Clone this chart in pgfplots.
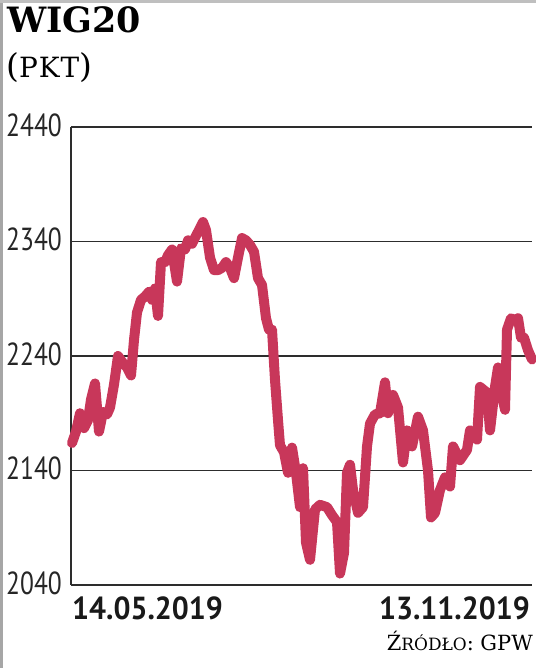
\documentclass[border=0pt]{standalone}
\usepackage{pgfplots}
\pgfplotsset{compat=1.18}
\usepackage{fontspec}
\setmainfont{DejaVu Serif}
\newfontfamily\tickfont[FakeStretch=0.8]{PT Sans}
\newfontfamily\datefont[FakeStretch=0.94]{PT Sans}
\newfontfamily\titlefont{DejaVu Serif}
\definecolor{wig}{RGB}{200,55,90}
\definecolor{gridc}{RGB}{45,45,45}
\begin{document}
\begin{tikzpicture}[x=1bp,y=1bp]
\path[use as bounding box] (0,0) rectangle (536,668);
\fill[gray!70] (0,0) rectangle (3,668);
\fill[gray!50] (0,665) rectangle (536,668);
\node[anchor=north west,inner sep=0pt,font=\titlefont\bfseries\fontsize{35}{40}\selectfont] at (7,662) {WIG20};
\node[anchor=north west,inner sep=0pt,font=\titlefont\fontsize{33}{36}\selectfont] at (6,616) {({\fontsize{28}{30}\selectfont P\kern1ptK\kern1ptT})};
\begin{axis}[
  at={(71bp,83bp)}, anchor=south west,
  scale only axis, width=461bp, height=458bp,
  xmin=71, xmax=532, ymin=2040, ymax=2440,
  axis x line=bottom, axis y line=left,
  axis line style={gridc, line width=1.6pt, -},
  xtick=\empty,
  ytick={2040,2140,2240,2340,2440},
  yticklabels={2040,2140,2240,2340,2440},
  major tick length=0pt,
  ymajorgrids, grid style={gridc, line width=1.6pt},
  yticklabel style={font=\tickfont\fontsize{32}{34}\selectfont, anchor=east, inner sep=0pt, xshift=-9bp, yshift=2bp, text=black!85},
  clip=false,
]
\addplot[wig, line width=10bp, line join=round, line cap=round] coordinates {
(72,2164) (76,2174) (80,2190) (84,2177) (88,2184) (91,2202) (95,2216) (99,2174)
(103,2191) (107,2189) (110,2195) (114,2215) (118,2240) (122,2235) (127,2230) (131,2223)
(134,2254) (137,2278) (141,2289) (145,2292) (149,2296) (152,2289) (155,2299) (158,2275)
(161,2322) (165,2322) (168,2328) (172,2333) (177,2305) (181,2334) (185,2333) (188,2341)
(192,2338) (196,2345) (199,2350) (203,2357) (206,2350) (210,2326) (214,2315) (218,2315)
(222,2317) (226,2322) (230,2317) (234,2308) (238,2326) (242,2343) (246,2341) (250,2337)
(254,2331) (258,2308) (262,2302) (266,2273) (269,2263) (272,2263) (275,2219) (278,2184)
(280,2162) (284,2156) (288,2138) (292,2160) (296,2138) (300,2108) (303,2142) (306,2077)
(310,2062) (315,2106) (320,2110) (327,2108) (332,2101) (337,2095) (340,2050) (344,2068)
(347,2138) (350,2145) (353,2123) (358,2103) (363,2108) (367,2161) (370,2181) (375,2189)
(380,2190) (385,2217) (388,2190) (393,2206) (398,2195) (403,2147) (407,2175) (412,2161)
(418,2187) (423,2175) (428,2140) (431,2099) (435,2103) (440,2123) (445,2134) (450,2126)
(453,2161) (460,2149) (467,2158) (470,2175) (477,2167) (480,2213) (487,2208) (490,2175)
(495,2213) (498,2230) (502,2206) (505,2193) (507,2263) (511,2273) (515,2271) (518,2273)
(521,2256) (524,2256) (528,2245) (532,2237)
};
\node[anchor=north west, inner sep=0pt, font=\datefont\bfseries\fontsize{32}{34}\selectfont, text=black!90] at (rel axis cs:0,0) [yshift=-12bp,xshift=1bp] {14.05.2019};
\node[anchor=north east, inner sep=0pt, font=\datefont\bfseries\fontsize{32}{34}\selectfont, text=black!90] at (rel axis cs:1,0) [yshift=-12bp,xshift=-2bp] {13.11.2019};
\end{axis}
\node[anchor=south east, inner sep=0pt, font=\titlefont\fontsize{21}{23}\selectfont] at (533,17) {Ź{\fontsize{17}{19}\selectfont RÓDŁO}: GPW};
\end{tikzpicture}
\end{document}
